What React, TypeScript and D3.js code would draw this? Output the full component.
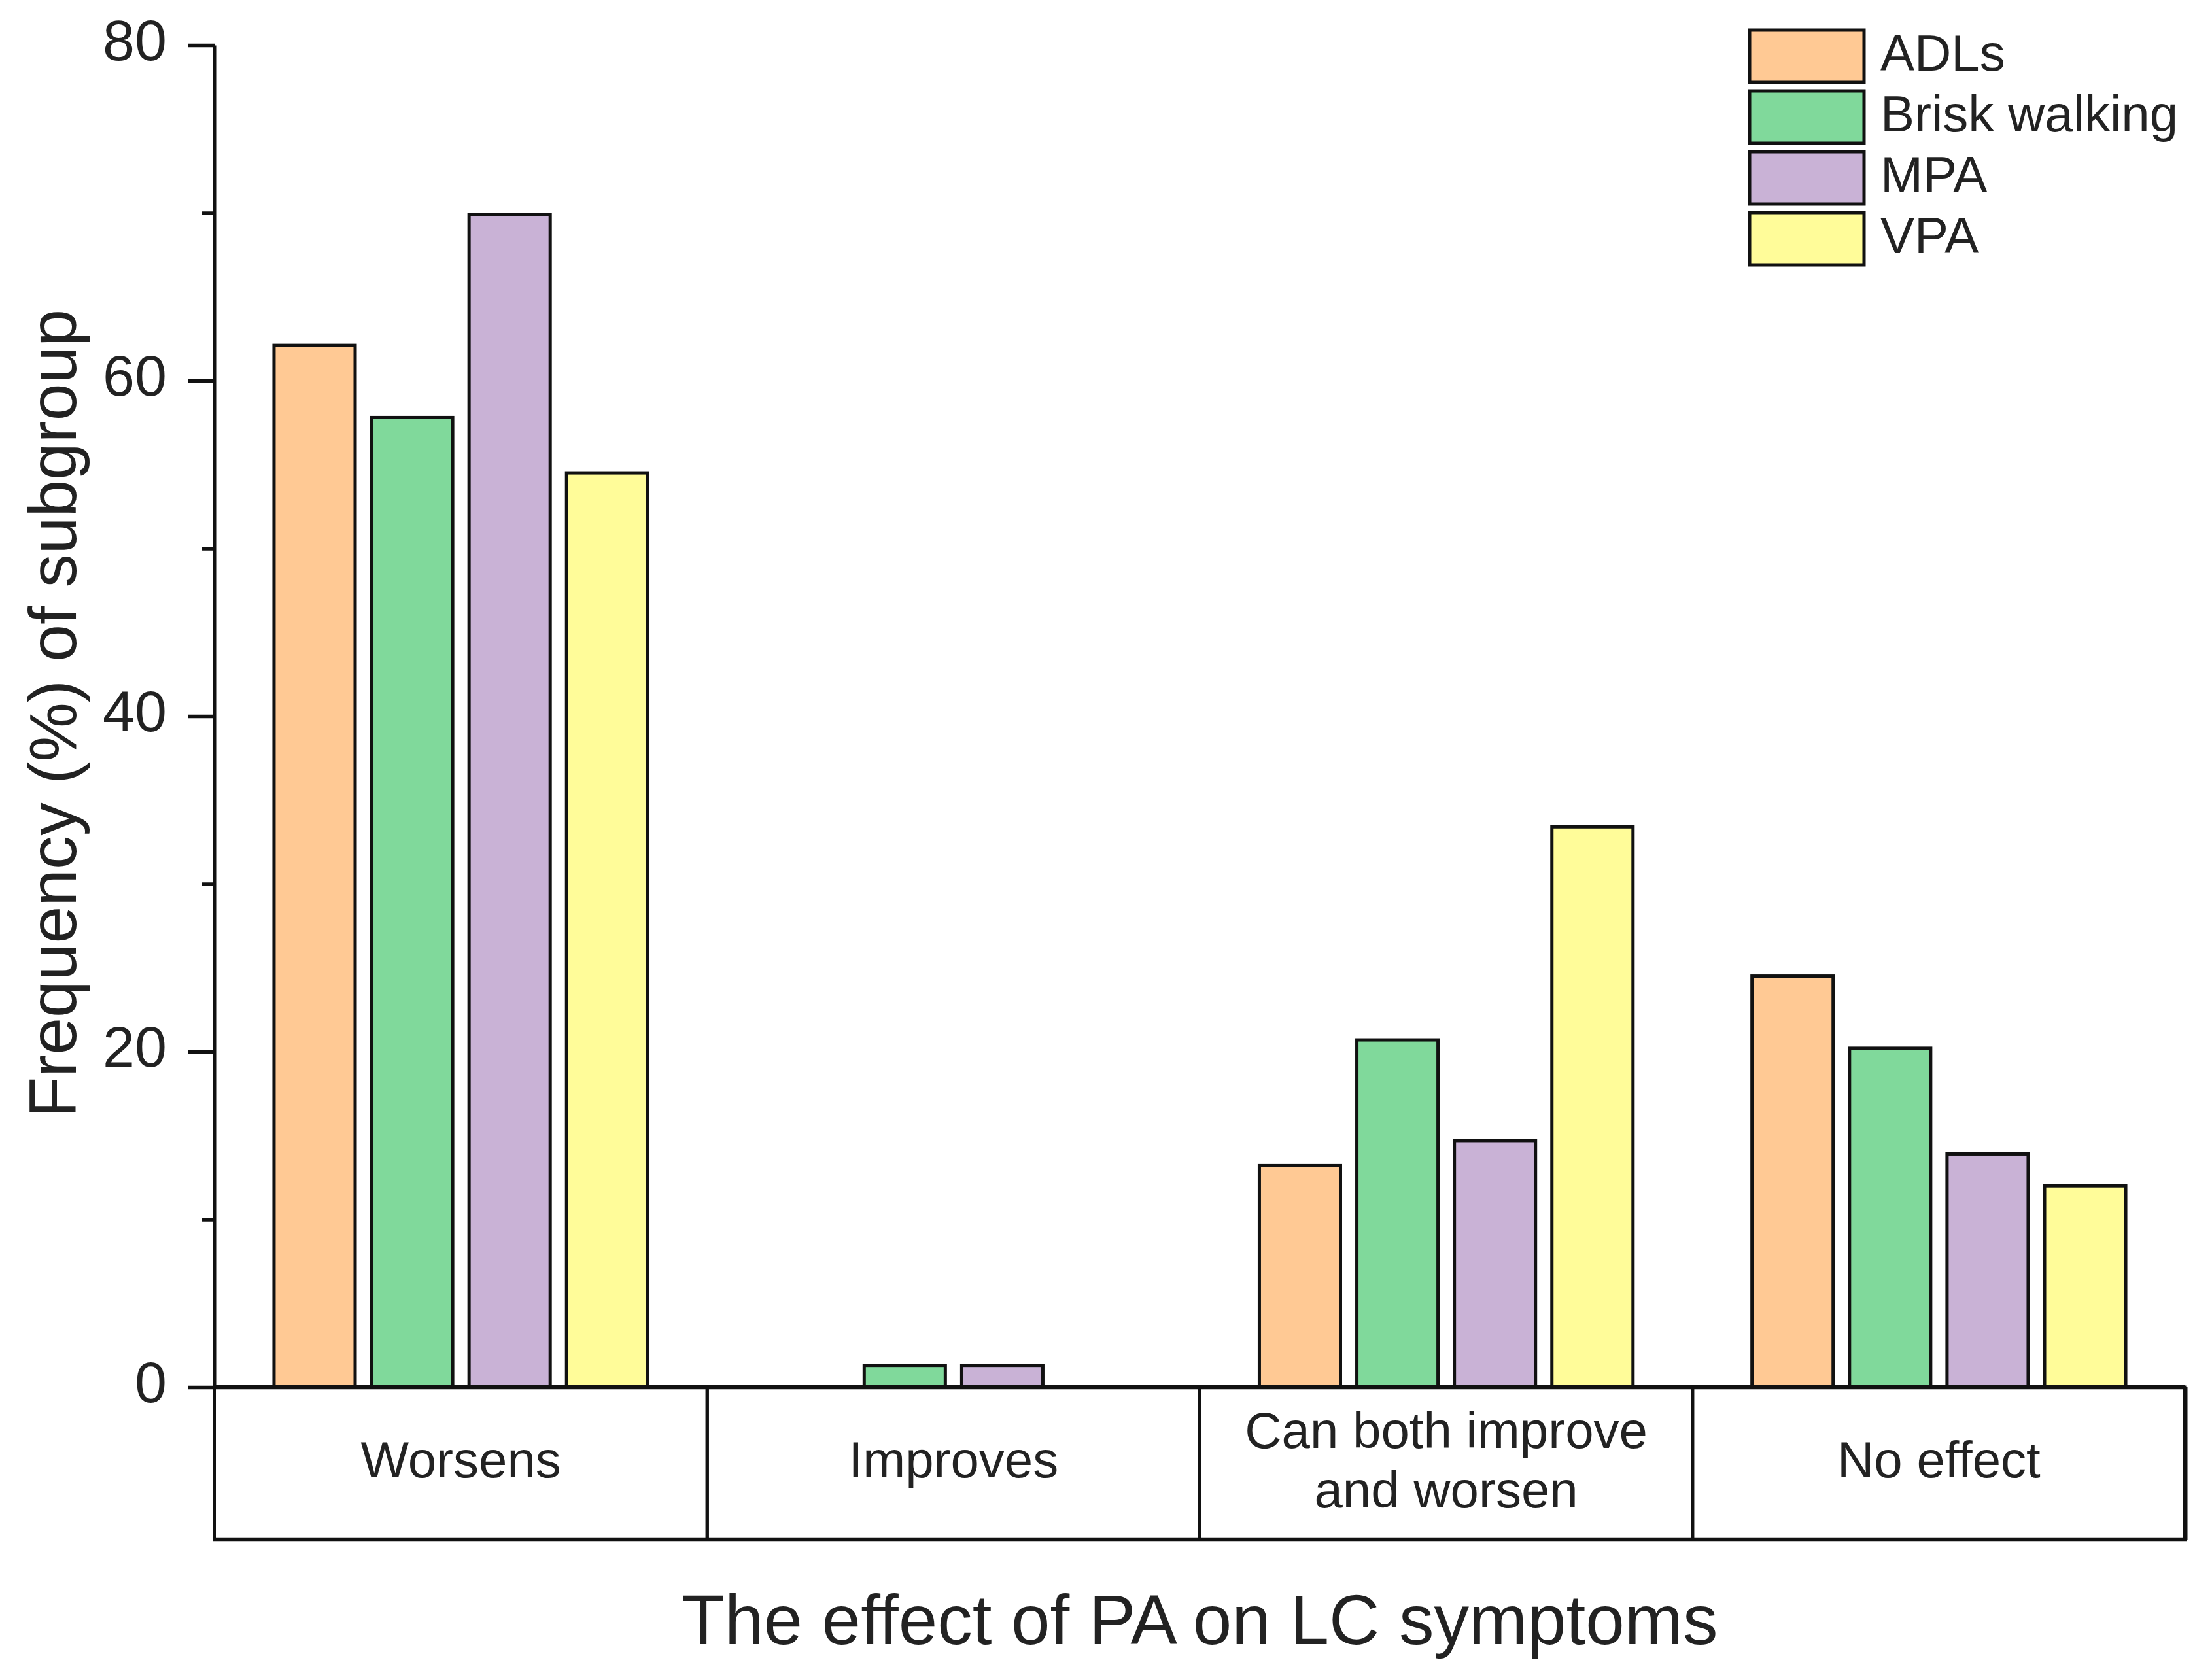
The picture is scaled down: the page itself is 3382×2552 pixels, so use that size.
import React, { useEffect, useRef } from "react";
import * as d3 from "d3";

// categories along x, one label line per array entry
const categories = ["Worsens", "Improves", "Can both improve and worsen", "No effect"];
const categoryLines = [["Worsens"], ["Improves"], ["Can both improve", "and worsen"], ["No effect"]];

const seriesNames = ["ADLs", "Brisk walking", "MPA", "VPA"];
const adls = [62.1, 0, 13.2, 24.5];
const briskWalking = [57.8, 1.3, 20.7, 20.2];
const mpa = [69.9, 1.3, 14.7, 13.9];
const vpa = [54.5, 0, 33.4, 12.0];

const majorTicks = [0, 20, 40, 60, 80];
const minorTicks = [10, 30, 50, 70];

const colors = ["#FFC994", "#80D99B", "#C9B2D6", "#FFFC99"];

const W = 3382;
const H = 2552;
const FONT = "'Liberation Sans', Arial, sans-serif";

const App = () => {
  const ref = useRef<SVGSVGElement>(null);

  useEffect(() => {
    const svg = d3.select(ref.current);
    svg.html("");

    const left = 328,
      right = 3341,
      top = 69,
      zeroY = 2121,
      boxBottom = 2354;

    const seriesValues = [adls, briskWalking, mpa, vpa];
    const rows: any[] = [];
    categories.forEach((c, ci) => {
      seriesNames.forEach((s, si) => {
        rows.push({ category: c, series: s, value: seriesValues[si][ci], color: colors[si] });
      });
    });

    const x0: any = d3.scaleBand().domain(categories).range([left, right]).padding(0);
    const x1: any = d3
      .scaleBand()
      .domain(seriesNames)
      .range([0, x0.bandwidth()])
      .paddingInner(0.168)
      .paddingOuter(0.61);
    const y: any = d3.scaleLinear().domain([0, 80]).range([zeroY, top]);

    // bars
    svg
      .append("g")
      .selectAll("rect")
      .data(rows)
      .enter()
      .append("rect")
      .attr("x", (d: any) => x0(d.category) + x1(d.series))
      .attr("y", (d: any) => y(d.value))
      .attr("width", x1.bandwidth())
      .attr("height", (d: any) => y(0) - y(d.value))
      .attr("fill", (d: any) => d.color)
      .attr("stroke", "#111")
      .attr("stroke-width", 5);

    // category box under the axis
    const box = svg.append("g");
    box
      .selectAll("rect")
      .data(categories)
      .enter()
      .append("rect")
      .attr("x", (d: any) => x0(d))
      .attr("y", zeroY)
      .attr("width", x0.bandwidth())
      .attr("height", boxBottom - zeroY)
      .attr("fill", "none")
      .attr("stroke", "#111")
      .attr("stroke-width", 5);
    box
      .append("line")
      .attr("x1", left)
      .attr("x2", right)
      .attr("y1", zeroY)
      .attr("y2", zeroY)
      .attr("stroke", "#111")
      .attr("stroke-width", 6.5);
    box
      .append("line")
      .attr("x1", left - 3)
      .attr("x2", right + 3)
      .attr("y1", boxBottom)
      .attr("y2", boxBottom)
      .attr("stroke", "#111")
      .attr("stroke-width", 6.5);
    box
      .append("line")
      .attr("x1", right)
      .attr("x2", right)
      .attr("y1", zeroY)
      .attr("y2", boxBottom)
      .attr("stroke", "#111")
      .attr("stroke-width", 7);

    const labels = box
      .selectAll(".cat")
      .data(categories)
      .enter()
      .append("text")
      .attr("class", "cat")
      .attr("x", (d: any) => x0(d) + x0.bandwidth() / 2)
      .attr("text-anchor", "middle")
      .style("font-family", FONT)
      .style("font-size", "78px")
      .attr("fill", "#222");
    labels.each(function (d: any, i: number) {
      const lines = categoryLines[i];
      const t = d3.select(this);
      const y0 = lines.length == 1 ? 2259 : 2214;
      lines.forEach((ln, li) => {
        t.append("tspan")
          .attr("x", x0(d) + x0.bandwidth() / 2)
          .attr("y", y0 + li * 91)
          .text(ln);
      });
    });

    // y axis
    const yAxis = svg.append("g").attr("transform", "translate(" + left + ",0)");
    yAxis
      .call(
        d3
          .axisLeft(y)
          .tickValues(minorTicks)
          .tickSize(19)
          .tickSizeOuter(0)
          .tickFormat(() => "")
      )
      .selectAll("line")
      .attr("stroke", "#111")
      .attr("stroke-width", 5.5);
    yAxis.select(".domain").attr("stroke", "#111").attr("stroke-width", 6);

    const yMajor = svg.append("g").attr("transform", "translate(" + left + ",0)");
    yMajor.call(
      d3
        .axisLeft(y)
        .tickValues(majorTicks)
        .tickSize(40)
        .tickSizeOuter(0)
        .tickPadding(33)
    );
    yMajor.select(".domain").remove();
    yMajor.selectAll("line").attr("stroke", "#111").attr("stroke-width", 5.5);
    yMajor
      .selectAll("text")
      .attr("dy", "0.25em")
      .style("font-family", FONT)
      .style("font-size", "88px")
      .attr("fill", "#222");

    // axis titles
    svg
      .append("text")
      .attr("transform", "translate(116,1091) rotate(-90)")
      .attr("text-anchor", "middle")
      .style("font-family", FONT)
      .style("font-size", "102px")
      .attr("fill", "#222")
      .text("Frequency (%) of subgroup");

    svg
      .append("text")
      .attr("x", (left + right) / 2)
      .attr("y", 2514)
      .attr("text-anchor", "middle")
      .style("font-family", FONT)
      .style("font-size", "107px")
      .attr("fill", "#222")
      .text("The effect of PA on LC symptoms");

    // legend
    const legend = svg
      .append("g")
      .selectAll("g")
      .data(seriesNames)
      .enter()
      .append("g")
      .attr("transform", (d: any, i: number) => "translate(2675," + (46 + i * 93) + ")");
    legend
      .append("rect")
      .attr("width", 175)
      .attr("height", 80)
      .attr("fill", (d: any, i: number) => colors[i])
      .attr("stroke", "#111")
      .attr("stroke-width", 5);
    legend
      .append("text")
      .attr("x", 200)
      .attr("y", 62)
      .style("font-family", FONT)
      .style("font-size", "78px")
      .attr("fill", "#222")
      .text((d: any) => d);
  }, []);

  return (
    <svg
      ref={ref}
      width={W}
      height={H}
      viewBox={`0 0 ${W} ${H}`}
      style={{ position: "absolute", left: 0, top: 0, background: "#fff" }}
    ></svg>
  );
};

export default App;
